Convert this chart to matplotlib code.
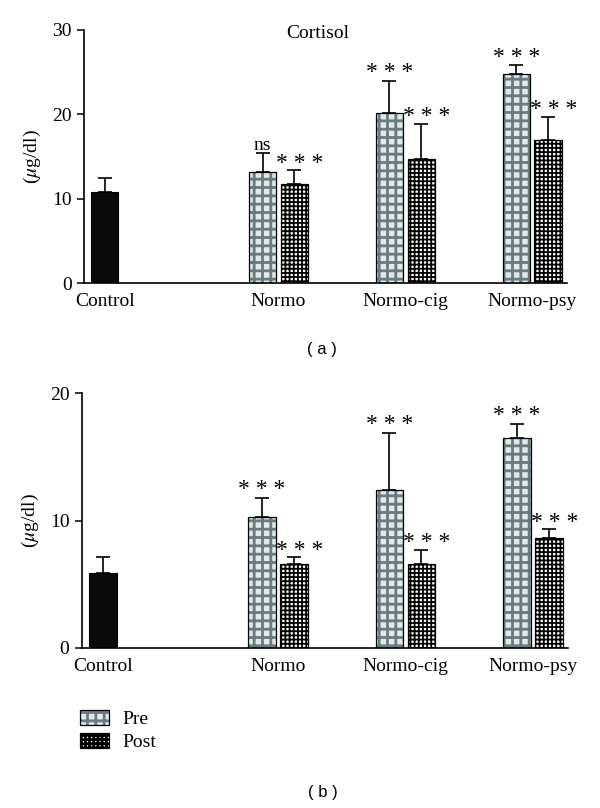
import numpy as np
import matplotlib
matplotlib.use("Agg")
from matplotlib import pyplot as plt
from matplotlib.patches import Patch
from matplotlib.legend_handler import HandlerTuple

plt.rcParams["font.family"] = ["Liberation Serif", "DejaVu Serif"]
plt.rcParams["mathtext.fontset"] = "stix"
plt.rcParams["hatch.linewidth"] = 2.0

categories = ["Control", "Normo", "Normo-cig", "Normo-psy"]

# panel (a): cortisol
a_control = 10.8
a_control_err = 1.6
a_pre = [13.2, 20.2, 24.8]
a_pre_err = [2.2, 3.8, 1.0]
a_post = [11.7, 14.7, 16.9]
a_post_err = [1.7, 4.2, 2.8]
a_pre_marks = ["ns", "* * *", "* * *"]
a_post_marks = ["* * *", "* * *", "* * *"]

# panel (b)
b_control = 5.9
b_control_err = 1.2
b_pre = [10.3, 12.4, 16.5]
b_pre_err = [1.5, 4.5, 1.1]
b_post = [6.6, 6.6, 8.6]
b_post_err = [0.5, 1.1, 0.7]
b_pre_marks = ["* * *", "* * *", "* * *"]
b_post_marks = ["* * *", "* * *", "* * *"]

group_x = np.array([0.75, 7.09, 11.71, 16.33])
OFFSET = 0.58
WIDTH = 1.0

PRE_FACE = "#dfe8ea"
PRE_HATCH = "#6b7a7e"
POST_HATCH = "++++"


def draw_panel(ax, control, control_err, pre, pre_err, post, post_err,
               pre_marks, post_marks, ymax, yticks):
    xs_pre = group_x[1:] - OFFSET
    xs_post = group_x[1:] + OFFSET

    ax.bar(group_x[0], control, WIDTH, color="#0a0a0a", edgecolor="black", linewidth=0.8)
    # pre: gray gingham, drawn twice so the hatch can be grey and outline black
    ax.bar(xs_pre, pre, WIDTH, color=PRE_FACE, edgecolor=PRE_HATCH, hatch="++", linewidth=0)
    ax.bar(xs_pre, pre, WIDTH, fill=False, edgecolor="black", linewidth=0.9)
    with plt.rc_context({"hatch.linewidth": 1.3}):
        bars = ax.bar(xs_post, post, WIDTH, color="white", edgecolor="black",
                      hatch=POST_HATCH, linewidth=0.9)
    for b in bars:
        if hasattr(b, "set_hatch_linewidth"):
            b.set_hatch_linewidth(1.3)

    xs = np.concatenate([[group_x[0]], xs_pre, xs_post])
    ys = np.concatenate([[control], pre, post])
    es = np.concatenate([[control_err], pre_err, post_err])
    ax.errorbar(xs, ys, yerr=[np.zeros_like(es), es], fmt="none", ecolor="black",
                elinewidth=1.2, capsize=5, capthick=1.2)

    for x, y, e, m in zip(xs_pre, pre, pre_err, pre_marks):
        size = 14 if m == "ns" else 17
        ax.annotate(m, (x, y + e), xytext=(0, 2), textcoords="offset points",
                    ha="center", va="baseline", fontsize=size)
    for x, y, e, m in zip(xs_post, post, post_err, post_marks):
        ax.annotate(m, (x, y + e), xytext=(4, 1), textcoords="offset points",
                    ha="center", va="baseline", fontsize=17)

    ax.set_xlim(0, 17.6)
    ax.set_ylim(0, ymax)
    ax.set_yticks(yticks)
    ax.set_xticks(group_x)
    ax.set_xticklabels(categories)
    ax.tick_params(axis="x", length=0, pad=7, labelsize=14)
    ax.tick_params(axis="y", length=5, width=1.1, pad=4, labelsize=14)
    for s in ["top", "right"]:
        ax.spines[s].set_visible(False)
    for s in ["left", "bottom"]:
        ax.spines[s].set_linewidth(1.2)
    ax.set_ylabel("($\\mu$g/dl)", fontsize=14)
    ax.yaxis.set_label_coords(-0.085, 0.5)


fig = plt.figure(figsize=(6, 8.08), dpi=100)
ax1 = fig.add_axes([84 / 600, 1 - 283 / 808, 483 / 600, 253 / 808])
ax2 = fig.add_axes([82 / 600, 1 - 648 / 808, 486 / 600, 255 / 808])

draw_panel(ax1, a_control, a_control_err, a_pre, a_pre_err, a_post, a_post_err,
           a_pre_marks, a_post_marks, 30, [0, 10, 20, 30])
ax1.text(0.484, 0.985, "Cortisol", transform=ax1.transAxes, ha="center", va="center", fontsize=14)

draw_panel(ax2, b_control, b_control_err, b_pre, b_pre_err, b_post, b_post_err,
           b_pre_marks, b_post_marks, 20, [0, 10, 20])

fig.text(322 / 600, 1 - 350 / 808, "( a )", ha="center", va="center",
         fontsize=12, family="Liberation Sans")
fig.text(323 / 600, 1 - 792 / 808, "( b )", ha="center", va="center",
         fontsize=12, family="Liberation Sans")

pre_h = (Patch(facecolor=PRE_FACE, edgecolor=PRE_HATCH, hatch="++", linewidth=0),
         Patch(fill=False, edgecolor="black", linewidth=0.9))
post_h = Patch(facecolor="white", edgecolor="black", hatch=POST_HATCH, linewidth=0.9)
if hasattr(post_h, "set_hatch_linewidth"):
    post_h.set_hatch_linewidth(1.3)
fig.legend([pre_h, post_h], ["Pre", "Post"], loc="upper left",
           bbox_to_anchor=(80 / 600, 1 - 710 / 808), frameon=False, fontsize=14,
           handlelength=1.5, handleheight=0.8, handletextpad=0.7, labelspacing=0.25,
           borderpad=0, borderaxespad=0,
           handler_map={tuple: HandlerTuple(ndivide=1, pad=0)})

fig.savefig("out.png", dpi=100)
